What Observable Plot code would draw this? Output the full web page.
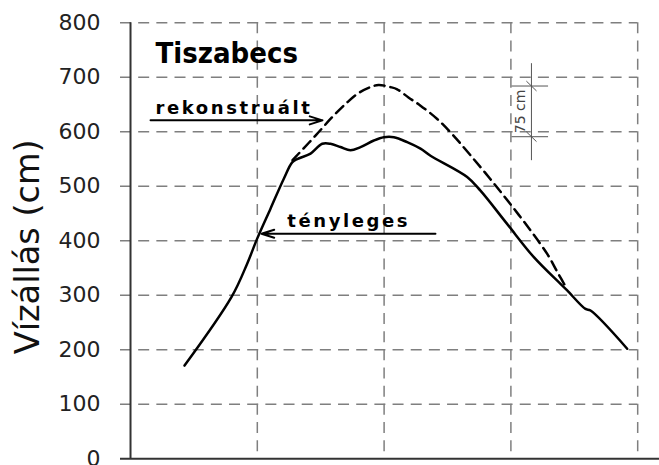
<!DOCTYPE html>
<html><head><meta charset="utf-8">
<script src="https://cdn.jsdelivr.net/npm/d3@7"></script>
<script src="https://cdn.jsdelivr.net/npm/@observablehq/plot@0.6"></script>
<style>body{margin:0;background:#fff;overflow:hidden}</style>
</head><body><div id="chart"></div>
<script>
const yTicks = [0, 100, 200, 300, 400, 500, 600, 700, 800];
const xGrid = [1, 2, 3, 4];

// tényleges (observed) water level
const actualX = [0.426, 0.797, 0.92, 0.999, 1.104, 1.209, 1.275, 1.314, 1.42, 1.512, 1.577, 1.656, 1.735, 1.814, 1.919, 1.998, 2.077, 2.182, 2.287, 2.366, 2.655, 2.76, 2.97, 3.181, 3.391, 3.444, 3.588, 3.628, 3.917];
const actualY = [171, 297, 358, 404, 459, 514, 544, 550, 560, 578, 578, 572, 566, 572, 584, 590, 590, 581, 569, 556, 517, 492, 431, 370, 321, 309, 275, 272, 202];

// rekonstruált (reconstructed) water level
const reconX = [1.278, 1.314, 1.459, 1.591, 1.709, 1.798, 1.893, 1.956, 2.05, 2.103, 2.192, 2.287, 2.421, 2.547, 2.681, 2.839, 2.997, 3.155, 3.289, 3.368, 3.444];
const reconY = [548, 557, 593, 627, 654, 671, 682, 686, 682, 678, 663, 648, 623, 593, 557, 513, 467, 419, 375, 342, 311];

const title = "Tiszabecs";
const yLabel = "Vízállás (cm)";
const reconLabel = "rekonstruált";
const actualLabel = "tényleges";
const diffLabel = "75 cm";
const diffTop = 684, diffBottom = 591;

const actual = actualX.map((x, i) => ({x, y: actualY[i]}));
const recon = reconX.map((x, i) => ({x, y: reconY[i]}));
const xMin = -0.079, xMax = 4.172, dimX = 3.162;

const chart = Plot.plot({
  width: 659, height: 465,
  marginLeft: 120, marginRight: 0, marginTop: 22.3, marginBottom: 6.7,
  x: {domain: [xMin, xMax], axis: null},
  y: {domain: [0, 800], axis: null},
  style: {fontFamily: "DejaVu Sans", background: "white"},
  marks: [
    Plot.ruleY(yTicks.filter(d => d > 0), {x1: xMin, x2: 4, stroke: "#7f7f7f", strokeWidth: 1.5, strokeDasharray: "11,7.17"}),
    Plot.ruleX(xGrid, {y1: 800, y2: 0, stroke: "#7f7f7f", strokeWidth: 1.5, strokeDasharray: "11,7.17"}),
    Plot.ruleX([0], {y1: 0, y2: 800, stroke: "#333", strokeWidth: 2}),
    Plot.ruleY([0], {x1: xMin, x2: xMax, stroke: "#333", strokeWidth: 2}),
    Plot.axisY({ticks: yTicks, tickSize: 0, tickPadding: 20, fontSize: 22, label: null, fill: "#222"}),
    Plot.text([yLabel], {frameAnchor: "left", textAnchor: "middle", rotate: -90, dx: -92.5, dy: 6, fontSize: 33.5, fill: "#111"}),
    // 75 cm dimension
    Plot.ruleX([dimX], {y1: 725, y2: 547, stroke: "#555", strokeWidth: 1}),
    Plot.ruleY([diffTop, diffBottom], {x1: 3.009, x2: 3.297, stroke: "#555", strokeWidth: 1}),
    Plot.link([diffTop, diffBottom], {x1: dimX - 0.04, x2: dimX + 0.04, y1: d => d + 9, y2: d => d - 9, stroke: "#555", strokeWidth: 1}),
    Plot.text([diffLabel], {x: 3.076, y: (diffTop + diffBottom) / 2, rotate: -90, fontSize: 14, fill: "#444"}),
    // curves
    Plot.line(recon, {x: "x", y: "y", curve: "catmull-rom", stroke: "#000", strokeWidth: 2.5, strokeDasharray: "10,6"}),
    Plot.line(actual, {x: "x", y: "y", curve: "catmull-rom", stroke: "#000", strokeWidth: 2.5}),
    // labels and arrows
    Plot.text([title], {x: 0.197, y: 727, textAnchor: "start", lineAnchor: "bottom", fontSize: 29, fontWeight: "bold", fontFamily: "DejaVu Sans Condensed, DejaVu Sans", fill: "#000"}),
    Plot.text([reconLabel], {x: 0.197, y: 633, textAnchor: "start", lineAnchor: "bottom", fontSize: 18, fontWeight: "bold", fill: "#000"}),
    Plot.text([actualLabel], {x: 1.236, y: 426, textAnchor: "start", lineAnchor: "bottom", fontSize: 18, fontWeight: "bold", fill: "#000"}),
    Plot.arrow([0], {x1: 0.158, x2: 1.514, y1: 621, y2: 621, stroke: "#000", strokeWidth: 2, headAngle: 35, headLength: 10}),
    Plot.arrow([0], {x1: 2.405, x2: 1.033, y1: 413, y2: 413, stroke: "#000", strokeWidth: 2, headAngle: 35, headLength: 10})
  ]
});
document.getElementById("chart").appendChild(chart);
d3.select(chart).selectAll("text").filter(function() {
  return this.textContent === reconLabel || this.textContent === actualLabel;
}).style("letter-spacing", "2.6px");
</script>
</body></html>
